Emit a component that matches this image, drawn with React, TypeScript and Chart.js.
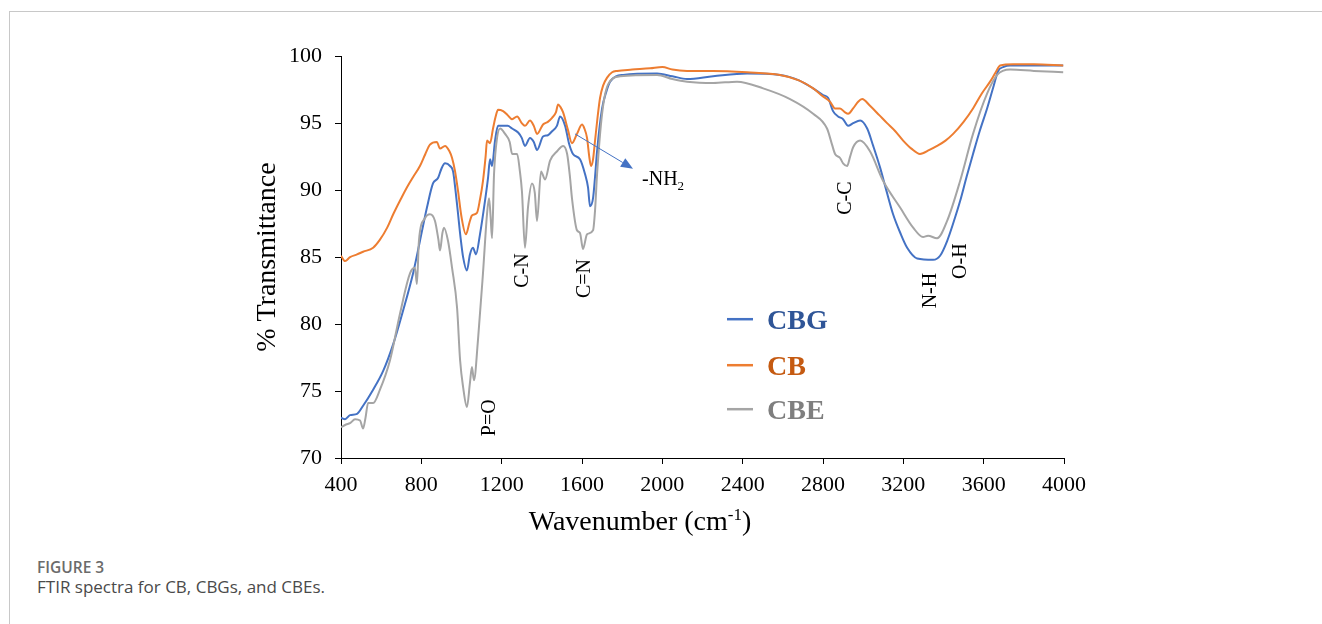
import React, { useEffect, useRef } from "react";
import { Chart, registerables } from "chart.js";

Chart.register(...registerables);

// ---------- data ----------
const seriesNames = ["CBG", "CB", "CBE"];

const cbgWavenumber = [400, 420, 445, 480, 510, 560, 610, 660, 709, 759, 793, 828, 858, 883, 900, 918, 943, 958, 970, 983, 995, 1008, 1027, 1042, 1057, 1072, 1092, 1117, 1132, 1142, 1152, 1167, 1182, 1207, 1230, 1252, 1282, 1300, 1316, 1341, 1360, 1376, 1406, 1430, 1451, 1475, 1491, 1516, 1535, 1555, 1590, 1615, 1630, 1640, 1655, 1665, 1675, 1700, 1720, 1740, 1805, 1974, 2050, 2123, 2253, 2422, 2586, 2680, 2751, 2800, 2825, 2850, 2875, 2900, 2925, 2950, 2985, 3020, 3050, 3084, 3115, 3149, 3185, 3219, 3269, 3348, 3383, 3418, 3450, 3483, 3515, 3547, 3580, 3617, 3650, 3672, 3700, 3732, 3996];
const cbgTransmittance = [73.0, 72.9, 73.2, 73.3, 73.9, 75.1, 76.5, 78.5, 81.0, 83.8, 86.2, 88.7, 90.5, 90.9, 91.6, 92.0, 91.8, 91.4, 90.0, 88.2, 86.5, 85.0, 84.0, 85.2, 85.7, 85.2, 86.7, 89.2, 90.9, 92.3, 91.8, 93.7, 94.8, 94.8, 94.8, 94.6, 94.3, 93.9, 93.3, 93.9, 93.6, 93.0, 94.0, 94.1, 94.4, 94.8, 95.5, 94.8, 93.5, 92.7, 92.3, 91.2, 90.2, 88.8, 89.4, 91.0, 92.9, 96.1, 97.3, 98.1, 98.6, 98.7, 98.5, 98.3, 98.5, 98.7, 98.6, 98.2, 97.6, 97.1, 96.9, 95.9, 95.5, 95.3, 94.8, 95.0, 95.2, 94.6, 93.3, 91.7, 90.0, 88.2, 86.8, 85.7, 84.9, 84.8, 85.1, 86.2, 87.6, 89.2, 91.0, 92.7, 94.4, 96.1, 97.8, 98.9, 99.2, 99.3, 99.3];

const cbWavenumber = [400, 420, 445, 480, 510, 560, 594, 630, 660, 700, 728, 760, 793, 820, 843, 877, 893, 918, 940, 953, 968, 983, 1000, 1022, 1040, 1052, 1077, 1092, 1107, 1120, 1127, 1142, 1157, 1170, 1182, 1207, 1230, 1252, 1277, 1300, 1316, 1341, 1360, 1376, 1406, 1430, 1451, 1470, 1481, 1493, 1506, 1530, 1550, 1575, 1600, 1612, 1625, 1637, 1645, 1655, 1665, 1678, 1690, 1705, 1725, 1750, 1775, 1850, 1939, 2000, 2050, 2123, 2250, 2422, 2586, 2680, 2751, 2800, 2835, 2860, 2885, 2910, 2925, 2950, 2975, 2995, 3034, 3080, 3119, 3160, 3199, 3240, 3283, 3330, 3368, 3410, 3448, 3500, 3547, 3590, 3632, 3660, 3682, 3747, 3850, 3996];
const cbTransmittance = [85.1, 84.7, 85.0, 85.2, 85.4, 85.7, 86.3, 87.2, 88.2, 89.4, 90.2, 91.0, 91.8, 92.7, 93.4, 93.6, 93.1, 93.3, 92.9, 92.4, 91.4, 89.9, 88.0, 86.7, 87.6, 88.1, 88.3, 89.3, 90.7, 92.5, 93.7, 93.5, 94.6, 95.5, 96.0, 95.9, 95.6, 95.3, 95.5, 95.0, 94.8, 95.2, 94.8, 94.2, 94.9, 95.1, 95.4, 95.8, 96.4, 96.2, 95.8, 94.5, 93.5, 94.2, 94.9, 94.6, 93.9, 92.4, 91.8, 92.3, 93.7, 95.5, 96.9, 97.8, 98.4, 98.8, 98.9, 99.0, 99.1, 99.2, 99.0, 98.9, 98.9, 98.8, 98.6, 98.2, 97.6, 97.0, 96.6, 96.1, 96.1, 95.8, 95.7, 96.1, 96.6, 96.8, 96.3, 95.6, 95.0, 94.4, 93.7, 93.1, 92.7, 93.0, 93.3, 93.7, 94.2, 95.1, 96.1, 97.2, 98.1, 98.8, 99.3, 99.4, 99.4, 99.3];

const cbeWavenumber = [400, 425, 445, 470, 495, 510, 522, 535, 560, 594, 644, 694, 744, 768, 778, 788, 818, 843, 868, 885, 893, 905, 913, 933, 953, 978, 993, 1008, 1027, 1042, 1052, 1062, 1082, 1107, 1127, 1137, 1145, 1152, 1162, 1177, 1192, 1217, 1240, 1252, 1277, 1290, 1301, 1316, 1331, 1351, 1365, 1376, 1396, 1416, 1441, 1476, 1506, 1526, 1540, 1550, 1575, 1590, 1605, 1625, 1655, 1665, 1675, 1700, 1730, 1790, 1974, 2050, 2123, 2253, 2372, 2502, 2636, 2751, 2820, 2845, 2860, 2885, 2900, 2920, 2935, 2950, 2985, 3034, 3099, 3184, 3249, 3298, 3323, 3368, 3418, 3483, 3547, 3617, 3667, 3732, 3850, 3996];
const cbeTransmittance = [72.3, 72.5, 72.6, 72.9, 72.8, 72.2, 73.0, 74.1, 74.1, 75.1, 77.3, 80.8, 83.8, 84.2, 83.0, 86.2, 87.9, 88.2, 87.7, 86.3, 85.5, 86.8, 87.2, 86.2, 84.2, 81.2, 77.3, 75.3, 73.8, 75.6, 76.8, 75.8, 78.8, 83.8, 88.2, 89.4, 88.0, 86.4, 91.2, 93.9, 94.6, 94.2, 93.6, 92.7, 92.7, 91.5, 89.9, 85.7, 88.7, 90.5, 89.8, 87.7, 91.4, 90.8, 92.2, 92.9, 93.3, 92.7, 91.0, 89.4, 87.0, 86.8, 85.6, 86.7, 87.0, 88.5, 91.2, 95.7, 97.9, 98.5, 98.6, 98.3, 98.1, 98.0, 98.1, 97.6, 96.8, 95.7, 94.6, 93.4, 92.7, 92.4, 92.0, 91.8, 92.5, 93.2, 93.7, 92.9, 90.7, 88.7, 87.2, 86.5, 86.6, 86.4, 87.7, 90.7, 94.2, 97.2, 98.6, 99.0, 98.9, 98.8];

const xTickMin = 400;
const xTickMax = 4000;
const xTickStep = 400;
const yTickMin = 70;
const yTickMax = 100;
const yTickStep = 5;

// peak labels (data coordinates)
const peakLabels = ["P=O", "C-N", "C=N", "C-C", "N-H", "O-H"];
const peakLabelWavenumber = [1142, 1306, 1615, 2915, 3338, 3488];
const peakLabelTransmittance = [73.0, 84.0, 83.4, 89.4, 82.5, 84.7];

// -NH2 arrow (data coordinates)
const arrowFrom = { wn: 1565, t: 94.2 };
const arrowTo = { wn: 1854, t: 91.6 };
const nh2Anchor = { wn: 1899, t: 90.9 };

// ---------- styles ----------
const lineColors = ["#4472C4", "#ED7D31", "#A5A5A5"];
const legendTextColors = ["#2F5597", "#C55A11", "#7F7F7F"];
const SERIF = '"Liberation Serif", "Times New Roman", serif';

function zip(xs: number[], ys: number[]) {
  return xs.map((x, i) => ({ x, y: ys[i] }));
}

const overlayPlugin = {
  id: "overlay",
  afterDatasetsDraw(chart: any) {
    const { ctx, chartArea, scales } = chart;
    const xs = scales.x;
    const ys = scales.y;
    ctx.save();

    // peak labels, rotated
    ctx.fillStyle = "#000";
    ctx.font = `20px ${SERIF}`;
    ctx.textAlign = "center";
    ctx.textBaseline = "middle";
    peakLabels.forEach((txt, i) => {
      const px = xs.getPixelForValue(peakLabelWavenumber[i]);
      const py = ys.getPixelForValue(peakLabelTransmittance[i]);
      ctx.save();
      ctx.translate(px, py);
      ctx.rotate(-Math.PI / 2);
      ctx.fillText(txt, 0, 0);
      ctx.restore();
    });

    // arrow
    const x1 = xs.getPixelForValue(arrowFrom.wn);
    const y1 = ys.getPixelForValue(arrowFrom.t);
    const x2 = xs.getPixelForValue(arrowTo.wn);
    const y2 = ys.getPixelForValue(arrowTo.t);
    const ang = Math.atan2(y2 - y1, x2 - x1);
    const headLen = 12;
    const headW = 5;
    ctx.strokeStyle = "#4472C4";
    ctx.fillStyle = "#4472C4";
    ctx.lineWidth = 1;
    ctx.beginPath();
    ctx.moveTo(x1, y1);
    ctx.lineTo(x2 - headLen * Math.cos(ang), y2 - headLen * Math.sin(ang));
    ctx.stroke();
    ctx.beginPath();
    ctx.moveTo(x2, y2);
    ctx.lineTo(
      x2 - headLen * Math.cos(ang) + headW * Math.sin(ang),
      y2 - headLen * Math.sin(ang) - headW * Math.cos(ang)
    );
    ctx.lineTo(
      x2 - headLen * Math.cos(ang) - headW * Math.sin(ang),
      y2 - headLen * Math.sin(ang) + headW * Math.cos(ang)
    );
    ctx.closePath();
    ctx.fill();

    // -NH2 text
    const nx = xs.getPixelForValue(nh2Anchor.wn);
    const ny = ys.getPixelForValue(nh2Anchor.t);
    ctx.fillStyle = "#000";
    ctx.textAlign = "left";
    ctx.textBaseline = "alphabetic";
    ctx.font = `20px ${SERIF}`;
    const main = "-NH";
    ctx.fillText(main, nx, ny + 7);
    const mw = ctx.measureText(main).width;
    ctx.font = `13px ${SERIF}`;
    ctx.fillText("2", nx + mw, ny + 12);

    // legend
    const legX = chartArea.left + 386;
    const legRows = [263, 309, 353];
    seriesNames.forEach((name, i) => {
      const ry = chartArea.top + legRows[i];
      ctx.strokeStyle = lineColors[i];
      ctx.lineWidth = 2.5;
      ctx.beginPath();
      ctx.moveTo(legX, ry);
      ctx.lineTo(legX + 26, ry);
      ctx.stroke();
      ctx.fillStyle = legendTextColors[i];
      ctx.font = `bold 28px ${SERIF}`;
      ctx.textAlign = "left";
      ctx.textBaseline = "alphabetic";
      ctx.fillText(name, legX + 40, ry + 9.5);
    });

    // x axis title with superscript
    ctx.fillStyle = "#000";
    const t1 = "Wavenumber (cm";
    const sup = "-1";
    const t2 = ")";
    ctx.font = `28px ${SERIF}`;
    const w1 = ctx.measureText(t1).width;
    const w3 = ctx.measureText(t2).width;
    ctx.font = `17px ${SERIF}`;
    const w2 = ctx.measureText(sup).width;
    const total = w1 + w2 + w3;
    const cx = chartArea.left + 299;
    const base = chartArea.bottom + 72;
    let sx = cx - total / 2;
    ctx.textAlign = "left";
    ctx.font = `28px ${SERIF}`;
    ctx.fillText(t1, sx, base);
    sx += w1;
    ctx.font = `17px ${SERIF}`;
    ctx.fillText(sup, sx, base - 10);
    sx += w2;
    ctx.font = `28px ${SERIF}`;
    ctx.fillText(t2, sx, base);

    ctx.restore();
  },
};

export default function App() {
  const canvasRef = useRef<HTMLCanvasElement>(null);

  useEffect(() => {
    const canvas = canvasRef.current;
    if (!canvas) return;
    const series = [
      zip(cbgWavenumber, cbgTransmittance),
      zip(cbWavenumber, cbTransmittance),
      zip(cbeWavenumber, cbeTransmittance),
    ];
    const chart = new Chart(canvas, {
      type: "scatter",
      data: {
        datasets: seriesNames.map((name, i) => ({
          label: name,
          data: series[i],
          showLine: true,
          borderColor: lineColors[i],
          backgroundColor: lineColors[i],
          borderWidth: 2,
          pointRadius: 0,
          pointHoverRadius: 0,
          cubicInterpolationMode: "monotone" as const,
          order: 3 - i,
        })),
      },
      options: {
        animation: false,
        responsive: false,
        devicePixelRatio: 1,
        events: [],
        layout: { padding: { top: 25, right: 36, left: 0, bottom: 0 } },
        plugins: {
          legend: { display: false },
          tooltip: { enabled: false },
        },
        scales: {
          x: {
            type: "linear",
            min: xTickMin,
            max: xTickMax,
            afterFit: (s: any) => {
              s.height = 102;
            },
            ticks: {
              stepSize: xTickStep,
              autoSkip: false,
              maxRotation: 0,
              padding: 8,
              color: "#000",
              font: { family: SERIF, size: 22 },
              callback: (v: any) => String(v),
            },
            grid: {
              drawOnChartArea: false,
              drawTicks: true,
              tickLength: 6,
              color: "#000",
              lineWidth: 1,
            },
            border: { display: true, color: "#000", width: 1 },
          },
          y: {
            type: "linear",
            min: yTickMin,
            max: yTickMax,
            afterFit: (s: any) => {
              s.width = 111;
            },
            ticks: {
              stepSize: yTickStep,
              padding: 13,
              color: "#000",
              font: { family: SERIF, size: 22 },
              callback: (v: any) => String(v),
            },
            grid: {
              drawOnChartArea: false,
              drawTicks: true,
              tickLength: 6,
              color: "#000",
              lineWidth: 1,
            },
            border: { display: true, color: "#000", width: 1 },
            title: {
              display: true,
              text: "% Transmittance",
              color: "#000",
              font: { family: SERIF, size: 28 },
              padding: { top: 21, bottom: 0 },
            },
          },
        },
      },
      plugins: [overlayPlugin],
    });
    return () => chart.destroy();
  }, []);

  return (
    <div
      style={{
        position: "absolute",
        left: 0,
        top: 0,
        width: 1322,
        height: 624,
        background: "#fff",
        overflow: "hidden",
      }}
    >
      <div
        style={{
          position: "absolute",
          left: 9,
          top: 11,
          right: 0,
          bottom: 0,
          borderTop: "1px solid #c8c8c8",
          borderLeft: "1px solid #c8c8c8",
        }}
      />
      <canvas
        ref={canvasRef}
        width={870}
        height={530}
        style={{ position: "absolute", left: 230, top: 30, width: 870, height: 530 }}
      />
      <div
        style={{
          position: "absolute",
          left: 37,
          top: 558,
          fontFamily: '"Open Sans", "Noto Sans", sans-serif',
          fontSize: 15.5,
          fontWeight: 600,
          lineHeight: "18px",
          color: "#6b6b6b",
          whiteSpace: "nowrap",
        }}
      >
        FIGURE 3
      </div>
      <div
        style={{
          position: "absolute",
          left: 37,
          top: 576,
          fontFamily: '"Open Sans", "Noto Sans", sans-serif',
          fontSize: 17,
          lineHeight: "22px",
          color: "#4a4a4a",
          whiteSpace: "nowrap",
        }}
      >
        FTIR spectra for CB, CBGs, and CBEs.
      </div>
    </div>
  );
}
